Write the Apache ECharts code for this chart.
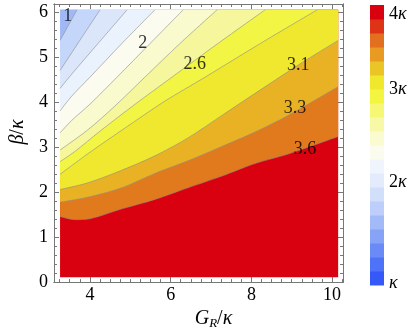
<!DOCTYPE html>
<html>
<head>
<meta charset="utf-8">
<title></title>
<script src="https://cdn.jsdelivr.net/npm/echarts@6/dist/echarts.min.js"></script>
</head>
<body style="margin:0;background:#fff">
<div id="main" style="width:415px;height:335px;"></div>
<script>
// plotted region of the contour data (G_R/kappa, beta/kappa)
var xMin = 3.26, xMax = 10.15, yMin = 0.11, yMax = 6.06;

// contour lines, from the top-left corner towards the bottom
var c1 = [[3.68,6.06],[3.26,5.38]];
var c2 = [[4.25,6.06],[3.75,5.38],[3.26,4.71]];
var c3 = [[4.92,6.06],[4.20,5.31],[3.55,4.63],[3.26,4.31]];
var c4 = [[5.61,6.06],[4.79,5.31],[4.00,4.56],[3.55,4.14],[3.26,3.81]];
var c5 = [[6.31,6.06],[5.49,5.31],[4.67,4.56],[4.00,3.96],[3.55,3.60],[3.26,3.32]];
var c6 = [[7.15,6.06],[6.23,5.31],[5.36,4.56],[4.62,3.92],[3.95,3.39],[3.26,2.94]];
var c7 = [[8.34,6.06],[7.17,5.31],[6.03,4.56],[5.12,3.96],[4.25,3.36],[3.63,2.91],[3.26,2.68]];
var c8 = [[9.63,6.06],[8.22,5.31],[6.85,4.56],[5.86,4.03],[4.87,3.43],[4.00,2.89],[3.26,2.40]];
var c9 = [[10.15,5.38],[9.21,4.86],[8.41,4.39],[7.27,3.71],[6.43,3.21],[5.61,2.81],[4.79,2.49],[3.95,2.21],[3.26,2.06]];
var c10 = [[10.15,4.35],[8.91,3.71],[8.09,3.34],[7.27,3.02],[6.43,2.70],[5.61,2.42],[4.79,2.10],[3.95,1.89],[3.26,1.78]];
var c11 = [[10.15,3.24],[8.91,2.85],[8.09,2.64],[7.27,2.36],[6.43,2.10],[5.61,1.84],[4.79,1.63],[4.00,1.41],[3.63,1.39],[3.26,1.46]];

// contour labels
var labelPts = [[3.45,5.91,'1'],[5.31,5.31,'2'],[6.60,4.84,'2.6'],[9.16,4.82,'3.1'],[9.08,3.88,'3.3'],[9.33,2.96,'3.6']];

// colour bar: band edges and labels
var barEdges = [0.9,1.05,1.2,1.35,1.5,1.65,1.8,1.95,2.1,2.25,2.4,2.55,2.7,2.85,3.0,3.15,3.3,3.45,3.6,3.75,3.9];
var barLabelAt = [0.92, 2, 3, 3.8];
var barLabels = ['κ', '2κ', '3κ', '4κ'];

var xLabels = [4, 6, 8, 10];
var yLabels = [0, 1, 2, 3, 4, 5, 6];

var barColors = ['#3558f8','#4e72f8','#6a8bf7','#86a3f7','#a2baf8','#bccef9','#d2dffb','#e3ebfc','#f0f5fd','#fbfcee',
                 '#fafbd0','#f8f9a6','#f6f774','#f3f540','#f0e82c','#ebc426','#e89a22','#e3701e','#df3318','#d9000f'];

// fill above each curve, painted from the bottom curve upwards
var curves = [c11, c10, c9, c8, c7, c6, c5, c4, c3, c2, c1];
var fills = ['#e17a1d','#e9b224','#f0e82e','#f3f545','#f6f79c','#f9facd','#fbfcef','#eaf2fd','#dbe6fb','#c4d6f9','#a0b8f5'];

var xMinor = [], yMinor = [];
for (var t = 3.25; t <= 10.26; t += 0.25) xMinor.push(+t.toFixed(2));
for (var u = 0; u <= 6.19; u += 0.2) yMinor.push(+u.toFixed(2));

var serif = 'Liberation Serif';
var gray = '#777';

function xAx(pos, ticks, len, labels) {
    return {
        type: 'value', gridIndex: 0, position: pos, min: 3.11, max: 10.27,
        axisLine: { show: true, onZero: false, lineStyle: { color: gray, width: 1 } },
        axisTick: { show: true, inside: true, length: len, customValues: ticks, lineStyle: { color: gray } },
        axisLabel: labels ? { show: true, customValues: xLabels, margin: 4, color: '#000', fontFamily: serif, fontSize: 18 } : { show: false },
        splitLine: { show: false }
    };
}
function yAx(pos, ticks, len, labels) {
    return {
        type: 'value', gridIndex: 0, position: pos, min: 0, max: 6.19,
        axisLine: { show: true, onZero: false, lineStyle: { color: gray, width: 1 } },
        axisTick: { show: true, inside: true, length: len, customValues: ticks, lineStyle: { color: gray } },
        axisLabel: labels ? { show: true, customValues: yLabels, margin: 6, color: '#000', fontFamily: serif, fontSize: 18 } : { show: false },
        splitLine: { show: false }
    };
}

var xAxes = [xAx('bottom', xLabels, 5, true), xAx('bottom', xMinor, 3, false), xAx('top', xLabels, 5, false), xAx('top', xMinor, 3, false)];
xAxes[0].name = '{i|G}{s|R}{n|/}{i|κ}';
xAxes[0].nameLocation = 'middle';
xAxes[0].nameGap = 21;
xAxes[0].nameTextStyle = {
    padding: [0, 0, 0, 30],
    rich: {
        i: { fontFamily: serif, fontStyle: 'italic', fontSize: 20, color: '#000' },
        s: { fontFamily: serif, fontStyle: 'italic', fontSize: 13, color: '#000', padding: [9, 0, 0, 0] },
        n: { fontFamily: serif, fontSize: 20, color: '#000' }
    }
};
xAxes.push({ type: 'value', gridIndex: 1, min: 0, max: 1, show: false });

var yAxes = [yAx('left', yLabels, 5, true), yAx('left', yMinor, 3, false), yAx('right', yLabels, 5, false), yAx('right', yMinor, 3, false)];
yAxes[0].name = '{i|β}{n|/}{i|κ}';
yAxes[0].nameLocation = 'middle';
yAxes[0].nameRotate = 90;
yAxes[0].nameGap = 26;
yAxes[0].nameTextStyle = {
    padding: [0, 0, 0, 22],
    rich: {
        i: { fontFamily: serif, fontStyle: 'italic', fontSize: 20, color: '#000' },
        n: { fontFamily: serif, fontSize: 20, color: '#000' }
    }
};
yAxes.push({
    type: 'value', gridIndex: 1, position: 'right', min: 0.9, max: 3.9,
    axisLine: { show: false }, axisTick: { show: false }, splitLine: { show: false },
    axisLabel: {
        show: true, customValues: barLabelAt, margin: 5, align: 'left',
        formatter: function (v) {
            var s = barLabels[barLabelAt.indexOf(v)];
            return s.length > 1 ? '{n|' + s.charAt(0) + '}{k|κ}' : '{k|κ}';
        },
        rich: {
            n: { fontFamily: serif, fontSize: 18, color: '#000' },
            k: { fontFamily: serif, fontStyle: 'italic', fontSize: 18, color: '#000' }
        }
    }
});

// red base under everything
var series = [{
    type: 'custom', xAxisIndex: 0, yAxisIndex: 0, silent: true,
    data: [[xMin, yMin, xMax, yMax]],
    renderItem: function (params, api) {
        var a = api.coord([api.value(0), api.value(1)]);
        var b = api.coord([api.value(2), api.value(3)]);
        return {
            type: 'rect',
            shape: { x: a[0], y: b[1], width: b[0] - a[0], height: a[1] - b[1] },
            style: { fill: '#d9000f' }
        };
    },
    z: 1
}];

curves.forEach(function (c, i) {
    series.push({
        type: 'line', xAxisIndex: 0, yAxisIndex: 0, data: c,
        showSymbol: false, silent: true, smooth: 0.3,
        lineStyle: { color: 'rgba(140,140,140,0.75)', width: 0.8 },
        areaStyle: { color: fills[i], opacity: 1, origin: yMax },
        z: 2
    });
});

series.push({
    type: 'scatter', xAxisIndex: 0, yAxisIndex: 0, symbolSize: 0,
    data: labelPts,
    label: {
        show: true, position: 'inside',
        formatter: function (p) { return p.value[2]; },
        fontFamily: serif, fontSize: 18, color: '#000'
    },
    z: 3
});

series.push({
    type: 'custom', xAxisIndex: 4, yAxisIndex: 4,
    data: barColors.map(function (c, i) { return [i, barEdges[i], barEdges[i + 1]]; }),
    renderItem: function (params, api) {
        var a = api.coord([0, api.value(1)]);
        var b = api.coord([1, api.value(2)]);
        return {
            type: 'rect',
            shape: { x: a[0], y: b[1], width: b[0] - a[0], height: a[1] - b[1] + 0.5 },
            style: { fill: barColors[api.value(0)] }
        };
    }
});

var myChart = echarts.init(document.getElementById('main'));
myChart.setOption({
    animation: false,
    grid: [
        { left: 54, top: 4, width: 289, height: 289 },
        { left: 370, top: 5, width: 14, height: 280 }
    ],
    xAxis: xAxes,
    yAxis: yAxes,
    series: series
});
</script>
</body>
</html>
